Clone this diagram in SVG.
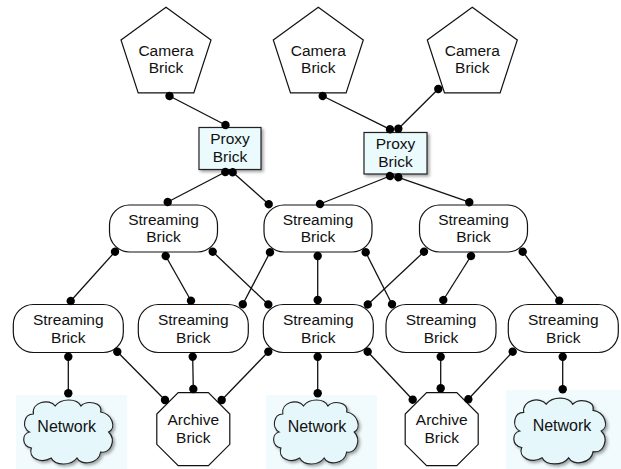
<svg xmlns="http://www.w3.org/2000/svg" width="621" height="469" viewBox="0 0 621 469">
<style>
text{font-family:"Liberation Sans",Arial,Helvetica,sans-serif;font-size:15.5px;fill:#111;text-anchor:middle}
.shape{fill:#fff;stroke:#111;stroke-width:1.2}
.proxy{fill:#eafafd;stroke:#222;stroke-width:1.2;filter:url(#sh)}
.cloud{fill:#e6f7fc;stroke:#222;stroke-width:1.2;filter:url(#sh)}
.cbg{fill:#f1fbfe}
.edge{fill:none;stroke:#111;stroke-width:1.3;marker-start:url(#dot);marker-end:url(#dot)}
</style>
<defs>
<filter id="sh" x="-20%" y="-20%" width="140%" height="140%">
<feDropShadow dx="2" dy="2" stdDeviation="1.5" flood-color="#000" flood-opacity="0.35"/>
</filter>
<marker id="dot" viewBox="-5 -5 10 10" refX="0" refY="0" markerWidth="10" markerHeight="10" markerUnits="userSpaceOnUse" orient="auto">
<circle r="4.2" fill="#000"/>
</marker>
<path id="cloudp" d="M12,16 C10,4 28,0 34,8 C40,0 56,0 60,8 C66,2 82,4 80,14 C92,16 96,30 88,34 C96,42 90,56 80,54 C78,66 60,68 56,60 C50,68 34,68 30,60 C20,66 6,60 10,50 C0,48 0,36 8,34 C0,30 2,16 12,16 Z"/>
</defs>

<g id="camera1"><polygon class="shape" points="166,7.3 211,40 193.8,92.9 138.2,92.9 121,40"/><text x="166" y="56">Camera</text><text x="166" y="73">Brick</text></g>
<g id="camera2"><polygon class="shape" points="318.3,7.3 363.3,40 346.1,92.9 290.5,92.9 273.3,40"/><text x="318.3" y="56">Camera</text><text x="318.3" y="73">Brick</text></g>
<g id="camera3"><polygon class="shape" points="472.3,7.3 517.3,40 500.1,92.9 444.5,92.9 427.3,40"/><text x="472.3" y="56">Camera</text><text x="472.3" y="73">Brick</text></g>

<g id="proxy1"><rect class="proxy" x="199" y="127.5" width="62" height="42"/><text x="230" y="143.5">Proxy</text><text x="230" y="161.5">Brick</text></g>
<g id="proxy2"><rect class="proxy" x="364" y="132.5" width="63" height="41.5"/><text x="395.5" y="148.5">Proxy</text><text x="395.5" y="166.5">Brick</text></g>

<g id="stream1"><rect class="shape" x="109.5" y="205" width="108" height="47" rx="20" ry="20"/><text x="163.5" y="224.5">Streaming</text><text x="163.5" y="241.8">Brick</text></g>
<g id="stream2"><rect class="shape" x="264" y="205" width="108" height="47" rx="20" ry="20"/><text x="318" y="224.5">Streaming</text><text x="318" y="241.8">Brick</text></g>
<g id="stream3"><rect class="shape" x="419.5" y="205" width="108" height="47" rx="20" ry="20"/><text x="473.5" y="224.5">Streaming</text><text x="473.5" y="241.8">Brick</text></g>

<g id="stream4"><rect class="shape" x="13.3" y="304.5" width="110" height="48" rx="20" ry="20"/><text x="68.3" y="325">Streaming</text><text x="68.3" y="342.5">Brick</text></g>
<g id="stream5"><rect class="shape" x="138.3" y="304.5" width="110" height="48" rx="20" ry="20"/><text x="193.3" y="325">Streaming</text><text x="193.3" y="342.5">Brick</text></g>
<g id="stream6"><rect class="shape" x="263.3" y="304.5" width="110" height="48" rx="20" ry="20"/><text x="318.3" y="325">Streaming</text><text x="318.3" y="342.5">Brick</text></g>
<g id="stream7"><rect class="shape" x="386" y="304.5" width="110" height="48" rx="20" ry="20"/><text x="441" y="325">Streaming</text><text x="441" y="342.5">Brick</text></g>
<g id="stream8"><rect class="shape" x="508.3" y="304.5" width="110" height="48" rx="20" ry="20"/><text x="563.3" y="325">Streaming</text><text x="563.3" y="342.5">Brick</text></g>

<g id="network1"><rect class="cbg" x="16" y="395" width="111" height="74"/><use href="#cloudp" class="cloud" transform="translate(21.5,398) scale(0.99,1)"/><text x="66.7" y="431.5" style="font-size:16px">Network</text></g>
<g id="network2"><rect class="cbg" x="266" y="395" width="111" height="74"/><use href="#cloudp" class="cloud" transform="translate(271.5,398) scale(0.94,1)"/><text x="317" y="431.5" style="font-size:16px">Network</text></g>
<g id="network3"><rect class="cbg" x="506" y="390" width="115" height="79"/><use href="#cloudp" class="cloud" transform="translate(511.5,396) scale(1.02,1.03)"/><text x="562" y="430.5" style="font-size:16px">Network</text></g>

<g id="archive1"><polygon class="shape" points="178.2,392.7 208.4,392.7 229.8,414.1 229.8,444.3 208.4,465.7 178.2,465.7 156.8,444.3 156.8,414.1"/><text x="193.3" y="425">Archive</text><text x="193.3" y="443">Brick</text></g>
<g id="archive2"><polygon class="shape" points="426.6,392.7 456.8,392.7 478.2,414.1 478.2,444.3 456.8,465.7 426.6,465.7 405.2,444.3 405.2,414.1"/><text x="441.7" y="425">Archive</text><text x="441.7" y="443">Brick</text></g>

<g id="connectors">
<line class="edge" x1="169.5" y1="96" x2="225.5" y2="125"/>
<line class="edge" x1="322.7" y1="96" x2="390" y2="129.3"/>
<line class="edge" x1="438.3" y1="89" x2="398.3" y2="128.7"/>
<line class="edge" x1="225.3" y1="172" x2="167.7" y2="202"/>
<line class="edge" x1="232.7" y1="172.3" x2="268.7" y2="204.2"/>
<line class="edge" x1="390" y1="176" x2="320" y2="204"/>
<line class="edge" x1="398.3" y1="177.3" x2="469.3" y2="202.2"/>
<line class="edge" x1="115" y1="251.7" x2="70.7" y2="301"/>
<line class="edge" x1="165.7" y1="256" x2="191" y2="300.7"/>
<line class="edge" x1="212.7" y1="251.7" x2="268.3" y2="304.5"/>
<line class="edge" x1="270" y1="252.3" x2="242.8" y2="304.2"/>
<line class="edge" x1="317.7" y1="256" x2="317.7" y2="300"/>
<line class="edge" x1="365.7" y1="252.3" x2="392" y2="304.2"/>
<line class="edge" x1="424" y1="251.7" x2="367.8" y2="304.5"/>
<line class="edge" x1="471" y1="256" x2="443.3" y2="300"/>
<line class="edge" x1="522.7" y1="251.7" x2="559.3" y2="300.7"/>
<line class="edge" x1="68.3" y1="356.7" x2="68.3" y2="393.3"/>
<line class="edge" x1="117.3" y1="351.7" x2="165" y2="400"/>
<line class="edge" x1="192.7" y1="356.7" x2="193.3" y2="389"/>
<line class="edge" x1="268.3" y1="351.7" x2="221.7" y2="400"/>
<line class="edge" x1="317.7" y1="356.7" x2="317.7" y2="393.3"/>
<line class="edge" x1="367.7" y1="351.7" x2="412.7" y2="399.7"/>
<line class="edge" x1="440.7" y1="356.7" x2="440.7" y2="388.3"/>
<line class="edge" x1="512.7" y1="351.7" x2="468.3" y2="399.3"/>
<line class="edge" x1="562.7" y1="356.7" x2="562.7" y2="389.3"/>
</g>
</svg>
